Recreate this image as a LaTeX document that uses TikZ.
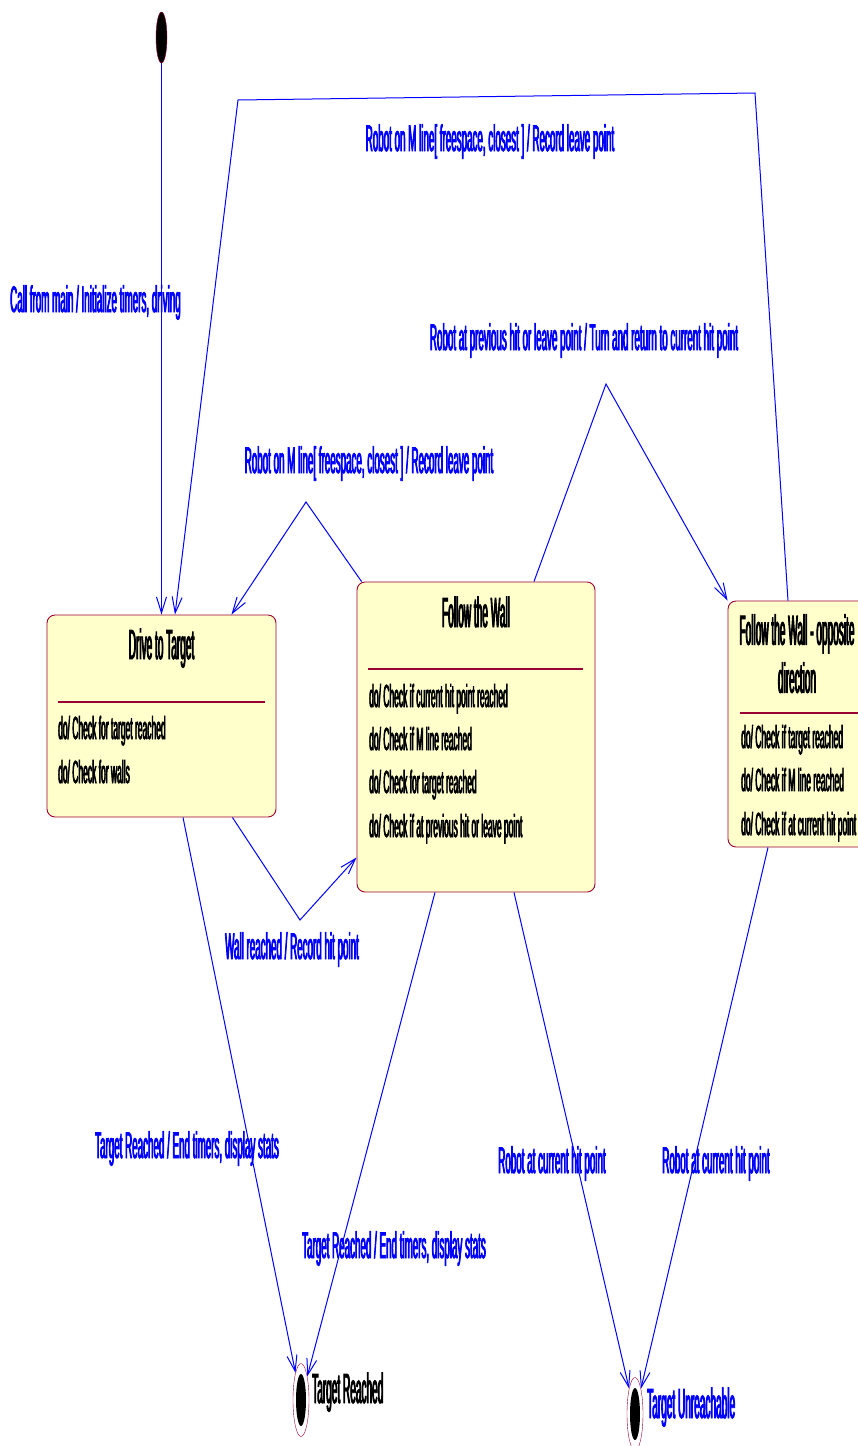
\documentclass[tikz,border=0pt]{standalone}
\usepackage{fontspec}
\setmainfont{Liberation Sans}[FakeStretch=0.265,FakeBold=2]
\newfontfamily\titlefont{Liberation Sans}[FakeStretch=0.24,FakeBold=2]
\usetikzlibrary{arrows.meta,shapes.geometric}
\definecolor{rosered}{RGB}{153,0,51}
\definecolor{roseyellow}{RGB}{255,255,204}

\begin{document}
\begin{tikzpicture}[x=1pt,y=-1pt,>={Straight Barb[length=16pt,width=10pt]},
  state/.style={draw=rosered,fill=roseyellow,rounded corners=8pt,inner sep=0pt,line width=0.9pt},
  statetitle/.style={font=\titlefont\fontsize{42}{48}\selectfont,inner sep=0pt,align=center},
  activity/.style={font=\fontsize{32}{40}\selectfont,anchor=base west,inner sep=0pt},
  separator/.style={rosered,line width=1.3pt},
  trans/.style={->,blue,line width=1pt},
  translabel/.style={font=\fontsize{37}{40}\selectfont,text=blue,anchor=base,inner sep=0pt},
  initial/.style={ellipse,fill=black,draw=rosered,inner sep=0pt,minimum width=11pt,minimum height=51pt},
  finalring/.style={ellipse,fill=white,draw=rosered,inner sep=0pt,minimum width=16pt,minimum height=73pt},
  finaldot/.style={ellipse,fill=black,inner sep=0pt,minimum width=10pt,minimum height=52pt}]
  \useasboundingbox (0,0) rectangle (857,1446);

  % states
  \node[initial] (init) at (161.5,37.5) {};
  \node[state,minimum width=229pt,minimum height=202pt] (drive) at (161.5,716) {};
  \node[state,minimum width=238pt,minimum height=310pt] (wall) at (476,737) {};
  \node[state,minimum width=140pt,minimum height=246pt] (opp) at (798,724) {};
  \node[finalring] (reached) at (301,1400) {};
  \node[finaldot] (reacheddot) at (reached) {};
  \node[finalring] (unreach) at (635,1414) {};
  \node[finaldot] (unreachdot) at (unreach) {};

  % state texts
  \node[statetitle,anchor=base] (drivetitle) at (161.5,659) {Drive to Target};
  \draw[separator] (58,702) -- (265,702);
  \node[activity] (drive1) at (58,739) {do/ Check for target reached};
  \node[activity] (drive2) at (58,783) {do/ Check for walls};

  \node[statetitle,anchor=base] (walltitle) at (476,627) {Follow the Wall};
  \draw[separator] (368,669) -- (583,669);
  \node[activity] (wall1) at (369,707) {do/ Check if current hit point reached};
  \node[activity] (wall2) at (369,750) {do/ Check if M line reached};
  \node[activity] (wall3) at (369,793) {do/ Check for target reached};
  \node[activity] (wall4) at (369,837) {do/ Check if at previous hit or leave point};

  \node[statetitle,anchor=north] (opptitle) at (797,614) {Follow the Wall - opposite\\direction};
  \draw[separator] (740,713) -- (870,713);
  \node[activity] (opp1) at (741,748) {do/ Check if target reached};
  \node[activity] (opp2) at (741,791) {do/ Check if M line reached};
  \node[activity] (opp3) at (741,835) {do/ Check if at current hit point};

  \node[statetitle,anchor=base west] (reachedlabel) at (312,1403) {Target Reached};
  \node[statetitle,anchor=base west,text=blue] (unreachlabel) at (647,1418) {Target Unreachable};

  % transitions
  \draw[trans] (init) -- (init |- drive.north);
  \draw[trans] ([xshift=-10pt]opp.north) -- (755,93) -- (238,100) -- ([xshift=13.5pt]drive.north);
  \draw[trans] ([xshift=5pt]wall.north west) -- (306,502) -- ([xshift=-45pt]drive.north east);
  \draw[trans] ([xshift=-44pt]drive.south east) -- (300,920) -- ([yshift=35pt]wall.south west);
  \draw[trans] ([xshift=58pt]wall.north) -- (606,384) -- (opp.north west);
  \draw[trans] ([xshift=21.5pt]drive.south) -- (reached);
  \draw[trans] ([xshift=-41pt]wall.south) -- (reached);
  \draw[trans] ([xshift=38pt]wall.south) -- (unreach);
  \draw[trans] ([xshift=-30pt]opp.south) -- (unreach);

  % transition labels
  \node[translabel,anchor=base west] (callmain) at (10,312) {Call from main / Initialize timers, driving};
  \node[translabel] (mline1) at (490,151) {Robot on M line[ freespace, closest ] / Record leave point};
  \node[translabel] (mline2) at (369,473) {Robot on M line[ freespace, closest ] / Record leave point};
  \node[translabel] (wallreached) at (292,959) {Wall reached / Record hit point};
  \node[translabel] (previous) at (584,350) {Robot at previous hit or leave point / Turn and return to current hit point};
  \node[translabel] (target1) at (187,1158) {Target Reached / End timers, display stats};
  \node[translabel] (target2) at (394,1258) {Target Reached / End timers, display stats};
  \node[translabel] (hit1) at (552,1173) {Robot at current hit point};
  \node[translabel] (hit2) at (716,1173) {Robot at current hit point};
\end{tikzpicture}
\end{document}
